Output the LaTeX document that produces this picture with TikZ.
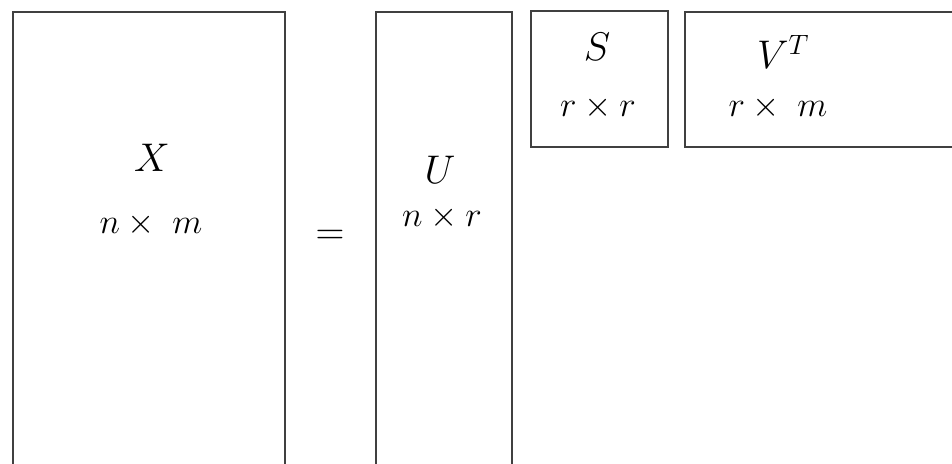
\documentclass[tikz,border=0pt]{standalone}
\usepackage{fix-cm}
\begin{document}
\begin{tikzpicture}[x=1pt,y=-1pt,
  mat/.style={draw=black!75,line width=1.7pt,inner sep=0pt,anchor=north west},
  lbl/.style={inner sep=0pt,font=\fontsize{40}{48}\selectfont},
  dim/.style={inner sep=0pt,font=\fontsize{35}{42}\selectfont}]
\useasboundingbox (0,0) rectangle (952,463);
\clip (0,0) rectangle (952,463);
\node[mat,minimum width=272pt,minimum height=480pt] (X) at (12,11) {};
\node[mat,minimum width=136pt,minimum height=480pt] (U) at (375,11) {};
\node[mat,minimum width=137pt,minimum height=136pt] (S) at (530,10) {};
\node[mat,minimum width=300pt,minimum height=135pt] (VT) at (684,11) {};
\node[lbl] (xl) at (152,158) {$X$};
\node[dim] (xd) at (151,225) {$n\times\;m$};
\node[lbl] (eq) at (330,237) {$=$};
\node[lbl] (ul) at (440,170) {$U$};
\node[dim] (ud) at (442,218) {$n\times r$};
\node[lbl] (sl) at (597,47) {$S$};
\node[dim] (sd) at (598,108) {$r\times r$};
\node[lbl] (vl) at (783,52) {$V^T$};
\node[dim] (vd) at (778,108) {$r\times\;m$};
\end{tikzpicture}
\end{document}
